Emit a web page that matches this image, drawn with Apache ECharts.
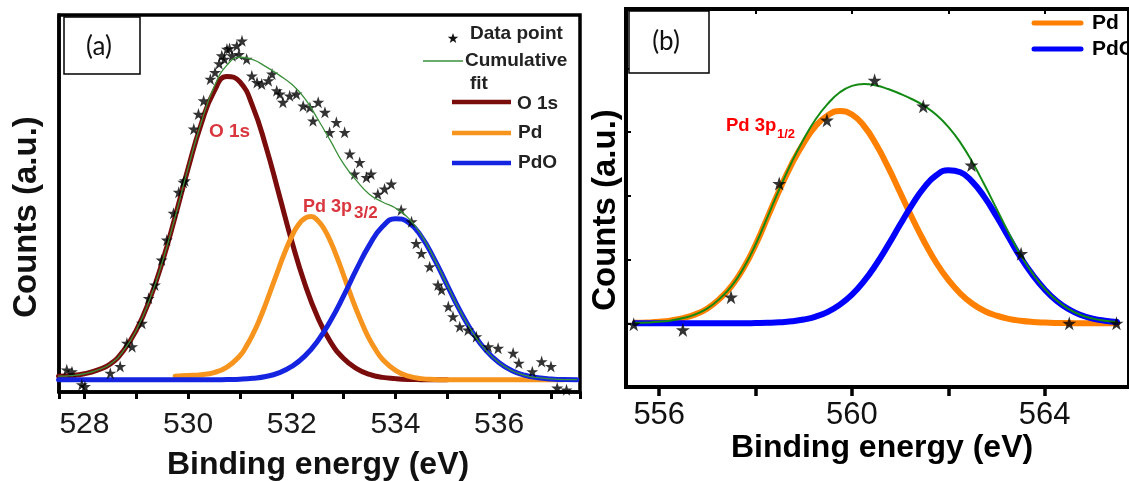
<!DOCTYPE html>
<html><head><meta charset="utf-8">
<script src="https://cdn.jsdelivr.net/npm/echarts@6/dist/echarts.min.js"></script>
<style>html,body{margin:0;padding:0;background:#fff}#c{width:1129px;height:481px}</style>
</head><body><div id="c"></div>
<script>
// ---------- Panel (a): O 1s / Pd 3p3/2 region ----------
const xsA = [527.5,527.75,528,528.25,528.5,528.75,529,529.25,529.5,529.75,530,530.25,530.5,530.75,531,531.25,531.5,531.75,532,532.25,532.5,532.75,533,533.25,533.5,533.75,534,534.25,534.5,534.75,535,535.25,535.5,535.75,536,536.25,536.5,536.75,537,537.25,537.5];
const o1sA = [1.2,1.4,2.0,3.2,5.2,9.5,16.3,26.0,38.6,53.6,69.5,84.0,94.8,99.8,98.0,89.8,76.8,61.3,45.6,31.7,20.6,12.4,7.0,3.7,1.8,0.8,0.4,0.15,0.06,0.02,0,null,null,null,null,null,null,null,null,null,null];
const pdoA = [0,0,0,0,0,0,0,0,0,0,0,0,0,0.1,0.2,0.5,1.1,2.3,4.4,7.8,12.8,19.5,27.6,36.4,44.4,50.4,53.0,51.8,47.1,39.7,31.1,22.6,15.3,9.6,5.6,3.0,1.5,0.7,0.3,0.1,0.05];
const cumA = [1.2,1.4,2.0,3.2,5.2,9.5,16.3,26.0,38.6,53.6,69.7,84.5,96.3,103.5,106.1,105.3,103.0,100.3,97.2,92.6,85.8,78.5,71.0,65.5,61.0,58.5,56.5,53.2,47.6,39.8,31.1,22.6,15.3,9.6,5.6,3.0,1.5,0.7,0.3,0.1,0.05];
const xsPdA = [529.75,530,530.25,530.5,530.75,531,531.125,531.25,531.375,531.5,531.625,531.75,531.875,532,532.125,532.25,532.375,532.5,532.625,532.75,532.875,533,533.125,533.25,533.375,533.5,533.625,533.75,534,534.25,534.5,534.75,535,535.5,536,536.5,537,537.25];
const pdA  = [1.2,1.4,1.7,2.4,4.2,7.9,11.1,15.0,19.7,25.1,30.9,36.7,42.3,47.2,50.9,53.1,53.7,52.4,49.6,45.4,40.2,34.4,28.5,22.9,17.8,13.3,9.7,6.8,3.1,1.2,0.4,0.15,0.05,0,0,0,0,0];
const ptXA = [527.66,527.76,527.95,528.01,528.50,528.69,528.82,528.92,529.11,529.24,529.36,529.49,529.59,529.72,529.82,529.91,529.94,530.11,530.20,530.30,530.43,530.52,530.60,530.65,530.70,530.75,530.80,530.85,530.94,530.98,531.04,531.13,531.23,531.33,531.42,531.55,531.62,531.71,531.77,531.83,531.96,532.09,532.22,532.35,532.41,532.51,532.64,532.73,532.86,533.02,533.12,533.21,533.31,533.44,533.53,533.66,533.79,533.92,534.11,534.31,534.40,534.50,534.66,534.82,534.89,535.02,535.11,535.24,535.40,535.56,535.79,535.98,536.27,536.38,536.64,536.82,537.00,537.12,537.30];
const ptYA = [3.3,2.7,-1.6,-2.2,2.2,4.4,12.1,10.9,18.6,26.8,31.2,39.4,46.0,54.8,61.7,65.0,65.5,82.5,87.4,91.8,98.9,101.1,104.0,106.6,105.5,108.8,109.0,106.6,109.9,107.0,111.5,105.5,100.0,97.8,97.3,98.4,100.6,95.1,94.0,91.3,93.4,94.0,90.1,89.6,85.2,91.3,88.0,81.4,84.7,81.4,74.3,67.7,71.5,66.6,67.7,61.1,62.8,64.4,55.9,52.0,44.9,41.6,37.2,31.2,29.6,24.1,20.8,17.5,16.4,14.2,10.9,10.4,8.8,5.5,2.7,6.0,4.4,-2.7,-3.3];
const tickLabelsA = [528,530,532,534,536];

// ---------- Panel (b): Pd 3p1/2 region ----------
const xsB = [555.5,555.75,556,556.25,556.5,556.75,557,557.25,557.5,557.75,558,558.25,558.5,558.75,559,559.25,559.5,559.75,560,560.25,560.5,560.75,561,561.25,561.5,561.75,562,562.25,562.5,562.75,563,563.25,563.5,563.75,564,564.25,564.5,564.75,565,565.25,565.5];
const pdB  = [0.2,0.37,0.72,1.36,2.45,4.2,7.0,11.5,17.5,26,37,50,63,75,85,93,98,100,98.3,92.9,84.3,73.5,61.6,49.6,38.4,28.5,20.4,14.0,9.2,5.8,3.6,2.1,1.2,0.63,0.33,0.16,0.08,0.04,0,0,0];
const pdoB = [0,0,0,0,0,0,0,0,0,0,0.1,0.23,0.47,0.94,1.77,3.17,5.4,8.8,13.5,19.8,27.7,36.8,46.5,55.9,64.0,69.7,72.1,71.1,66.6,59.4,50.4,40.6,31.0,22.8,15.9,10.5,6.6,3.9,2.2,1.2,0.6];
const cumB = [0.2,0.37,0.72,1.36,2.45,4.2,7.0,11.5,17.5,26,37.1,50.2,63.5,75.9,86.8,96.2,103.4,108.8,111.8,112.7,112.0,110.3,108.1,105.5,102.4,98.2,92.5,85.1,75.8,65.2,54.0,42.7,32.2,23.4,16.2,10.7,6.7,3.9,2.2,1.2,0.6];
const ptXB = [555.47,556.49,557.49,558.49,559.48,560.47,561.48,562.48,563.51,564.51,565.49];
const ptYB = [-0.5,-3.1,12.3,65.8,95.6,114.4,102.2,74.5,32.8,0,0];
const tickLabelsB = [556,560,564];
const yTicksB = [0,30,60,90,120];

const STAR = 'path://M50,0L61.2,34.5L97.6,34.5L68.2,55.9L79.4,90.5L50,69.1L20.6,90.5L31.8,55.9L2.4,34.5L38.8,34.5Z';
const FF = '"Liberation Sans", Arial, sans-serif';

const pairs = (xs, ys) => xs.map((x, i) => [x, ys[i]]);

// five-pointed star outline for the legend icon (geometry of the icon only)
function starPoints(cx, cy, r) {
  const pts = [];
  for (let k = 0; k < 10; k++) {
    const rr = k % 2 === 0 ? r : r * 0.4;
    const a = -Math.PI / 2 + k * Math.PI / 5;
    pts.push([cx + rr * Math.cos(a), cy + rr * Math.sin(a)]);
  }
  return pts;
}

function lineSeries(name, xi, yi, xs, ys, color, width) {
  return {
    name, type: 'line', xAxisIndex: xi, yAxisIndex: yi,
    data: pairs(xs, ys), smooth: true, showSymbol: false, symbol: 'none',
    lineStyle: { color, width, cap: 'round', join: 'round' },
    itemStyle: { color }, silent: true, animation: false
  };
}
// show only the listed tick labels (the axis picks nice ticks every 2 eV itself)
const labelsOnly = (list) => (v) => (list.indexOf(Math.round(v * 1000) / 1000) >= 0 ? String(v) : '');

const BROWN = '#7a0c0c', ORANGE_A = '#f7941e', BLUE_A = '#1424e0', GREEN_A = '#3a8f3a';
const ORANGE_B = '#ff7f00', BLUE_B = '#0000ff', GREEN_B = '#138a13';
const RED_A = '#d9363e';

const chart = echarts.init(document.getElementById('c'), null, { renderer: 'canvas' });

const frameLine = (w) => ({ show: true, onZero: false, lineStyle: { color: '#000', width: w } });

const option = {
  backgroundColor: '#ffffff',
  animation: false,
  grid: [
    { left: 59, top: 15, width: 521, height: 377, show: true, borderColor: '#000', borderWidth: 3.5, backgroundColor: 'transparent' },
    { left: 626, top: 9, width: 514, height: 378, show: true, borderColor: '#000', borderWidth: 4, backgroundColor: 'transparent' }
  ],
  xAxis: [
    { gridIndex: 0, type: 'value', min: 527.51, max: 537.56, splitNumber: 5, position: 'bottom',
      axisLine: frameLine(3.5),
      axisTick: { show: true, inside: false, length: 7, lineStyle: { color: '#000', width: 3 } },
      minorTick: { show: true, splitNumber: 2, length: 7, lineStyle: { color: '#000', width: 3 } },
      axisLabel: { show: true, showMinLabel: false, showMaxLabel: false, formatter: labelsOnly(tickLabelsA),
                   fontSize: 30, fontFamily: FF, color: '#1a1a1a', margin: 18 },
      splitLine: { show: false }, minorSplitLine: { show: false } },
    { gridIndex: 1, type: 'value', min: 555.31, max: 565.75, splitNumber: 5, position: 'bottom',
      axisLine: frameLine(4),
      axisTick: { show: true, inside: false, length: 9, lineStyle: { color: '#000', width: 3.5 } },
      axisLabel: { show: true, showMinLabel: false, showMaxLabel: false, formatter: labelsOnly(tickLabelsB),
                   fontSize: 31, fontFamily: FF, color: '#111', margin: 13 },
      splitLine: { show: false } },
    { gridIndex: 1, type: 'value', min: 555.31, max: 565.75, splitNumber: 5, position: 'top',
      axisLine: frameLine(3),
      axisTick: { show: true, inside: true, length: 5, lineStyle: { color: '#000', width: 2 } },
      axisLabel: { show: false }, splitLine: { show: false } }
  ],
  yAxis: [
    { gridIndex: 0, type: 'value', min: -4, max: 120,
      axisLine: frameLine(3.5), axisTick: { show: false }, axisLabel: { show: false }, splitLine: { show: false } },
    { gridIndex: 1, type: 'value', min: -30, max: 148, position: 'left',
      axisLine: frameLine(4),
      axisTick: { show: true, inside: true, length: 5, customValues: yTicksB, lineStyle: { color: '#000', width: 2 } },
      axisLabel: { show: false }, splitLine: { show: false } }
  ],
  series: [
    lineSeries('O 1s', 0, 0, xsA, o1sA, BROWN, 5),
    lineSeries('Pd', 0, 0, xsPdA, pdA, ORANGE_A, 5),
    lineSeries('PdO', 0, 0, xsA, pdoA, BLUE_A, 5),
    { name: 'Data point', type: 'scatter', xAxisIndex: 0, yAxisIndex: 0, data: pairs(ptXA, ptYA),
      symbol: STAR, symbolSize: 12, itemStyle: { color: '#000' }, silent: true, animation: false, z: 3 },
    Object.assign(lineSeries('Cumulative fit', 0, 0, xsA, cumA, GREEN_A, 1.3), { z: 4 }),

    lineSeries('Pd b', 1, 1, xsB, pdB, ORANGE_B, 6),
    lineSeries('PdO b', 1, 1, xsB, pdoB, BLUE_B, 6),
    Object.assign(lineSeries('Cumulative fit b', 1, 1, xsB, cumB, GREEN_B, 2), { z: 3 }),
    { name: 'Data point b', type: 'scatter', xAxisIndex: 1, yAxisIndex: 1, data: pairs(ptXB, ptYB),
      symbol: STAR, symbolSize: 14, itemStyle: { color: '#000' }, silent: true, animation: false, z: 4 }
  ],
  graphic: [
    { type: 'rect', z: 100, shape: { x: 64, y: 17, width: 76, height: 57 }, style: { fill: '#fff', stroke: '#000', lineWidth: 1.5 } },
    { type: 'text', z: 101, x: 99, y: 47, style: { text: '(a)', font: '26px Lato, "Open Sans", sans-serif', fill: '#111', align: 'center', verticalAlign: 'middle' } },
    { type: 'rect', z: 100, shape: { x: 629, y: 11, width: 80, height: 62 }, style: { fill: '#fff', stroke: '#000', lineWidth: 1.5 } },
    { type: 'text', z: 101, x: 666, y: 42, style: { text: '(b)', font: '26px Lato, "Open Sans", sans-serif', fill: '#111', align: 'center', verticalAlign: 'middle' } },

    { type: 'text', z: 100, x: 318, y: 465, style: { text: 'Binding energy (eV)', font: 'bold 32px ' + FF, fill: '#111', align: 'center', verticalAlign: 'middle' } },
    { type: 'text', z: 100, x: 882, y: 448, style: { text: 'Binding energy (eV)', font: 'bold 32px ' + FF, fill: '#000', align: 'center', verticalAlign: 'middle' } },
    { type: 'text', z: 100, x: 27, y: 217, rotation: Math.PI / 2, style: { text: 'Counts (a.u.)', font: 'bold 33px ' + FF, fill: '#111', align: 'center', verticalAlign: 'middle' } },
    { type: 'text', z: 100, x: 606, y: 210, rotation: Math.PI / 2, style: { text: 'Counts (a.u.)', font: 'bold 33px ' + FF, fill: '#000', align: 'center', verticalAlign: 'middle' } },

    { type: 'text', z: 100, x: 209, y: 132, style: { text: 'O 1s', font: 'bold 19px ' + FF, fill: RED_A, align: 'left', verticalAlign: 'middle' } },
    { type: 'text', z: 100, x: 303, y: 207, style: { text: 'Pd 3p', font: 'bold 18px ' + FF, fill: RED_A, align: 'left', verticalAlign: 'middle' } },
    { type: 'text', z: 100, x: 354, y: 213, style: { text: '3/2', font: 'bold 17px ' + FF, fill: RED_A, align: 'left', verticalAlign: 'middle' } },
    { type: 'text', z: 100, x: 726, y: 126, style: { text: 'Pd 3p', font: 'bold 18.5px ' + FF, fill: '#ff0000', align: 'left', verticalAlign: 'middle' } },
    { type: 'text', z: 100, x: 777, y: 134, style: { text: '1/2', font: 'bold 13px ' + FF, fill: '#ff0000', align: 'left', verticalAlign: 'middle' } },

    { type: 'polygon', z: 100, shape: { points: starPoints(453, 38.5, 5.5) }, style: { fill: '#111' } },
    { type: 'text', z: 100, x: 470, y: 34, style: { text: 'Data point', font: 'bold 19px ' + FF, fill: '#222', align: 'left', verticalAlign: 'middle' } },
    { type: 'line', z: 100, shape: { x1: 423, y1: 61, x2: 463, y2: 61 }, style: { stroke: GREEN_A, lineWidth: 1.3 } },
    { type: 'text', z: 100, x: 465, y: 61, style: { text: 'Cumulative', font: 'bold 19px ' + FF, fill: '#222', align: 'left', verticalAlign: 'middle' } },
    { type: 'text', z: 100, x: 470, y: 84, style: { text: 'fit', font: 'bold 19px ' + FF, fill: '#222', align: 'left', verticalAlign: 'middle' } },
    { type: 'line', z: 100, shape: { x1: 452, y1: 102, x2: 511, y2: 102 }, style: { stroke: BROWN, lineWidth: 4.5 } },
    { type: 'text', z: 100, x: 517, y: 104, style: { text: 'O 1s', font: 'bold 19px ' + FF, fill: '#222', align: 'left', verticalAlign: 'middle' } },
    { type: 'line', z: 100, shape: { x1: 452, y1: 133, x2: 511, y2: 133 }, style: { stroke: ORANGE_A, lineWidth: 4.5 } },
    { type: 'text', z: 100, x: 518, y: 133, style: { text: 'Pd', font: 'bold 19px ' + FF, fill: '#222', align: 'left', verticalAlign: 'middle' } },
    { type: 'line', z: 100, shape: { x1: 452, y1: 163, x2: 511, y2: 163 }, style: { stroke: BLUE_A, lineWidth: 4.5 } },
    { type: 'text', z: 100, x: 518, y: 163, style: { text: 'PdO', font: 'bold 19px ' + FF, fill: '#222', align: 'left', verticalAlign: 'middle' } },

    { type: 'line', z: 100, shape: { x1: 1034, y1: 23, x2: 1081, y2: 23 }, style: { stroke: ORANGE_B, lineWidth: 5, lineCap: 'round' } },
    { type: 'text', z: 100, x: 1092, y: 23, style: { text: 'Pd', font: 'bold 21px ' + FF, fill: '#000', align: 'left', verticalAlign: 'middle' } },
    { type: 'line', z: 100, shape: { x1: 1034, y1: 49, x2: 1081, y2: 49 }, style: { stroke: BLUE_B, lineWidth: 5, lineCap: 'round' } },
    { type: 'text', z: 100, x: 1092, y: 49, style: { text: 'PdO', font: 'bold 21px ' + FF, fill: '#000', align: 'left', verticalAlign: 'middle' } }
  ]
};

chart.setOption(option);
</script></body></html>
